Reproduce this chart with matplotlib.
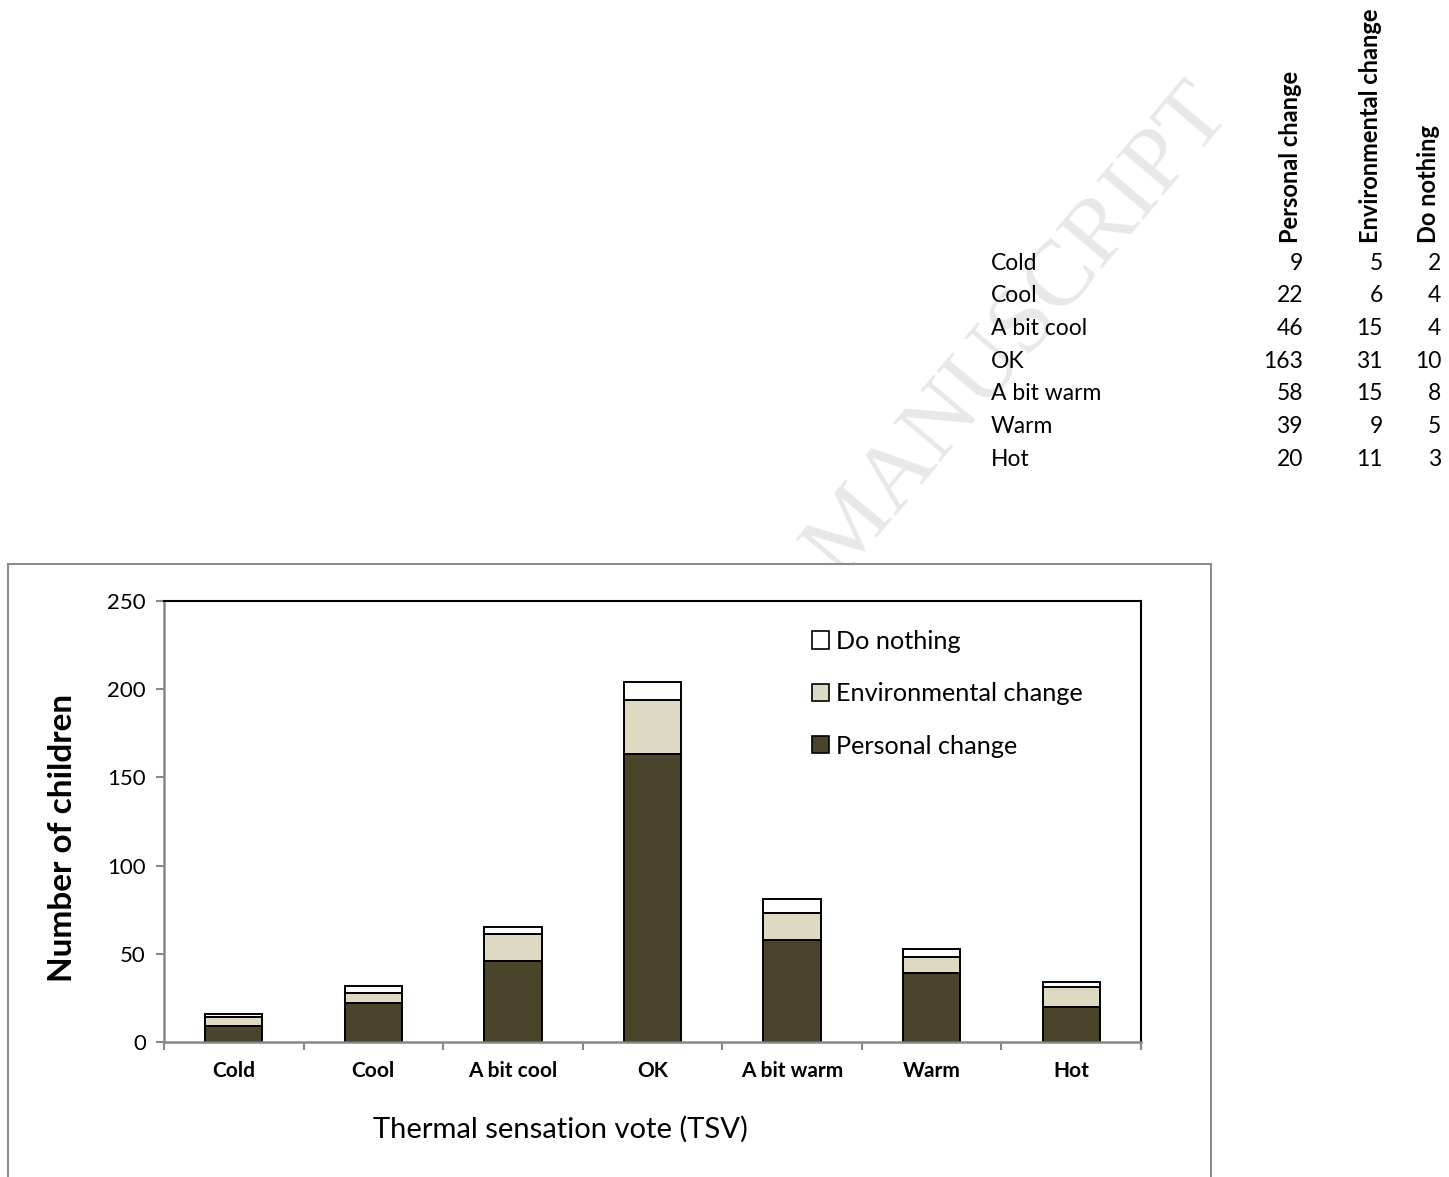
import matplotlib
matplotlib.use("Agg")
import matplotlib.pyplot as plt
from matplotlib.patches import Rectangle, Patch
import numpy as np

plt.rcParams['font.family'] = ['Lato', 'DejaVu Sans']

# survey counts per thermal sensation vote
categories = ['Cold', 'Cool', 'A bit cool', 'OK', 'A bit warm', 'Warm', 'Hot']
personal_change = [9, 22, 46, 163, 58, 39, 20]
environmental_change = [5, 6, 15, 31, 15, 9, 11]
do_nothing = [2, 4, 4, 10, 8, 5, 3]

series_names = ['Personal change', 'Environmental change', 'Do nothing']
series_colors = ['#4A452A', '#DDD9C3', '#FFFFFF']

W, H = 1449, 1177
fig = plt.figure(figsize=(W / 100, H / 100), dpi=100)


def fx(px):
    return px / W


def fy(py):
    return 1 - py / H


# faint watermark behind everything
fig.text(fx(1233), fy(114), 'ACCEPTED MANUSCRIPT', family='Liberation Serif',
         fontsize=68, color='#e8e8e8', rotation=50, rotation_mode='anchor',
         ha='right', va='baseline', zorder=0.5)

# data table in the top right corner
row_x = 991
col_right = [1303, 1383, 1441]
col_center = [1291, 1371, 1429]
row_y0, row_step = 263, 32.7
for i, name in enumerate(series_names):
    fig.text(fx(col_center[i]), fy(243), name, rotation=90, fontsize=17,
             fontweight='bold', ha='center', va='bottom', zorder=3)
columns = [personal_change, environmental_change, do_nothing]
for r, cat in enumerate(categories):
    y = fy(row_y0 + r * row_step)
    fig.text(fx(row_x), y, cat, fontsize=16.5, ha='left', va='center', zorder=3)
    for c, col in enumerate(columns):
        fig.text(fx(col_right[c]), y, str(col[r]), fontsize=16.5,
                 ha='right', va='center', zorder=3)

# chart area frame
fig.patches.append(Rectangle((fx(8), -0.05), fx(1211) - fx(8), fy(564) + 0.05,
                             transform=fig.transFigure, facecolor='white',
                             edgecolor='#8c8c8c', linewidth=1.5, zorder=1))

ax = fig.add_axes([fx(164), fy(1042), fx(1141) - fx(164), fy(601) - fy(1042)])
ax.set_zorder(2)
ax.set_facecolor('white')

x = np.arange(len(categories))
bottom = np.zeros(len(categories))
for name, vals, color in zip(series_names,
                             [personal_change, environmental_change, do_nothing],
                             series_colors):
    ax.bar(x, vals, width=0.41, bottom=bottom, color=color,
           edgecolor='black', linewidth=1.4, label=name)
    bottom += np.array(vals)

ax.set_xlim(-0.5, len(categories) - 0.5)
ax.set_ylim(0, 250)
ax.set_yticks(np.arange(0, 251, 50))
ax.set_xticks(x)
ax.set_xticklabels(categories, fontsize=15, fontweight='bold')
ax.set_xticks(np.arange(-0.5, len(categories)), minor=True)
ax.tick_params(axis='x', which='major', length=0, pad=14)
ax.tick_params(axis='x', which='minor', length=6, width=1.5, color='#888888',
               direction='out')
ax.tick_params(axis='y', length=6, width=1.5, color='#888888', labelsize=16, pad=7)

for side in ['left', 'bottom']:
    ax.spines[side].set_color('#888888')
    ax.spines[side].set_linewidth(1.8)
for side in ['top', 'right']:
    ax.spines[side].set_color('black')
    ax.spines[side].set_linewidth(1.5)

# axis titles sit where the original chart put them, not centred on the axes
fig.text(fx(63), fy(838), 'Number of children', rotation=90, fontsize=24,
         fontweight='bold', ha='center', va='center', zorder=3)
fig.text(fx(560), fy(1129), 'Thermal sensation vote (TSV)', fontsize=21,
         ha='center', va='center', zorder=3)

handles = [Patch(facecolor=c, edgecolor='black', linewidth=1.2)
           for c in series_colors][::-1]
ax.legend(handles, series_names[::-1], loc='upper left',
          bbox_to_anchor=(fx(812), fy(630)), bbox_transform=fig.transFigure,
          frameon=False, fontsize=18.2, handlelength=0.68, handleheight=0.68,
          handletextpad=0.25, labelspacing=1.16, borderpad=0, borderaxespad=0)

fig.savefig('out.png', dpi=100)
